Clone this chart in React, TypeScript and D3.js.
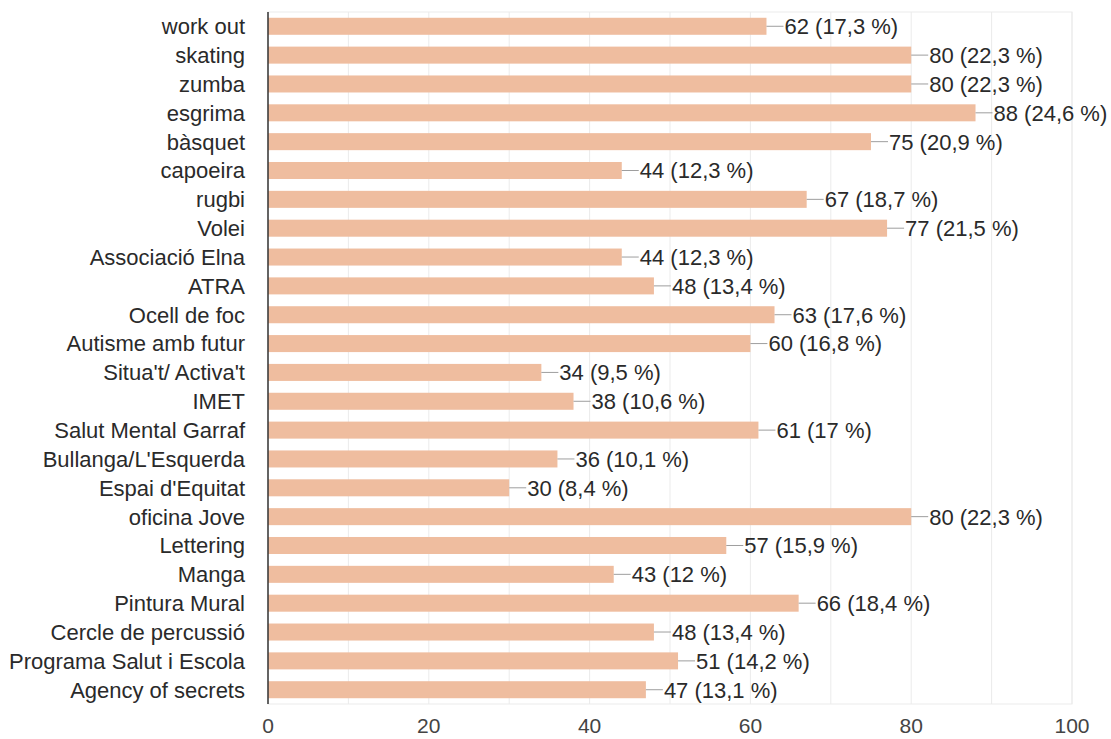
import React from "react";
import * as d3 from "d3";

const categories = [
  "work out", "skating", "zumba", "esgrima", "bàsquet", "capoeira", "rugbi", "Volei",
  "Associació Elna", "ATRA", "Ocell de foc", "Autisme amb futur", "Situa't/ Activa't", "IMET",
  "Salut Mental Garraf", "Bullanga/L'Esquerda", "Espai d'Equitat", "oficina Jove", "Lettering",
  "Manga", "Pintura Mural", "Cercle de percussió", "Programa Salut i Escola", "Agency of secrets",
];
const counts = [62, 80, 80, 88, 75, 44, 67, 77, 44, 48, 63, 60, 34, 38, 61, 36, 30, 80, 57, 43, 66, 48, 51, 47];
const percents = ["17,3", "22,3", "22,3", "24,6", "20,9", "12,3", "18,7", "21,5", "12,3", "13,4", "17,6", "16,8", "9,5", "10,6", "17", "10,1", "8,4", "22,3", "15,9", "12", "18,4", "13,4", "14,2", "13,1"];
const xTicks = [0, 20, 40, 60, 80, 100];
const xGrid = [10, 20, 30, 40, 50, 60, 70, 80, 90, 100];

export default function App() {
  const W = 1111, H = 739;
  const left = 268, right = 1072, top = 12, bottom = 704;
  const x = d3.scaleLinear().domain([0, 100]).range([left, right]);
  const y = d3.scaleBand().domain(categories).range([top, bottom]).paddingInner(0.41).paddingOuter(0.2);
  const font = "'Liberation Sans', Arial, sans-serif";
  const fs = 22;
  return (
    <svg width={W} height={H} style={{ position: "absolute", left: 0, top: 0, background: "#fff" }}>
      <rect x={left} y={top} width={right - left} height={bottom - top} fill="none" stroke="#ebebeb" />
      {xGrid.map((t) => (
        <line key={t} x1={x(t)} x2={x(t)} y1={top} y2={bottom} stroke="#ebebeb" />
      ))}
      {categories.map((c, i) => {
        const yy = y(c)!;
        const bw = y.bandwidth();
        const xe = x(counts[i]);
        return (
          <g key={c}>
            <rect x={left} y={yy} width={xe - left} height={bw} fill="#efbd9f" />
            <line x1={xe} x2={xe + 17} y1={yy + bw / 2} y2={yy + bw / 2} stroke="#9e9e9e" strokeWidth={1} />
            <text x={xe + 18} y={yy + bw / 2} dy="0.36em" fontSize={fs} fontFamily={font} fill="#2a2a2a">
              {`${counts[i]} (${percents[i]} %)`}
            </text>
            <text x={245} y={yy + bw / 2} dy="0.36em" textAnchor="end" fontSize={fs} fontFamily={font} fill="#2a2a2a">
              {c}
            </text>
          </g>
        );
      })}
      <line x1={left} x2={left} y1={top} y2={bottom} stroke="#333" strokeWidth={1.5} />
      {xTicks.map((t) => (
        <text key={t} x={x(t)} y={726} dy="0.35em" textAnchor="middle" fontSize={21} fontFamily={font} fill="#444">
          {t}
        </text>
      ))}
    </svg>
  );
}
